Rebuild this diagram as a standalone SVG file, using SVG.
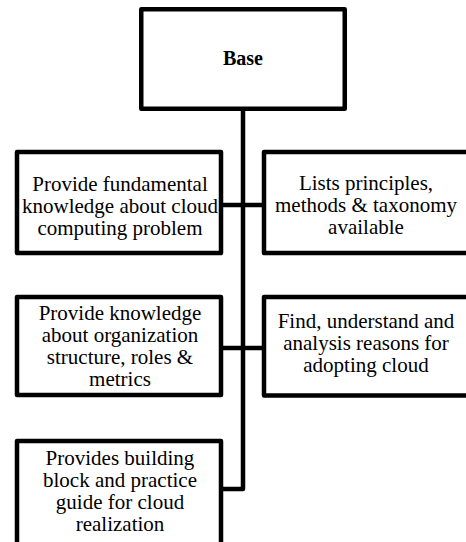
<svg xmlns="http://www.w3.org/2000/svg" width="466" height="542" viewBox="0 0 466 542">
<style>
.box{fill:#fff;stroke:#000;stroke-width:4.5;stroke-linejoin:round}
.c{fill:none;stroke:#000;stroke-width:4.5;stroke-linejoin:round}
text{font-family:"Liberation Serif","Times New Roman",serif;font-size:21px;fill:#000;text-anchor:middle}
.b{font-weight:bold;font-size:20px}
</style>
<rect width="466" height="542" fill="#fff"/>
<g id="connectors">
<path class="c" d="M243,111 V489 H223"/>
<path class="c" d="M221,205 H264"/>
<path class="c" d="M221,348 H264"/>
</g>
<g id="base">
<rect class="box" x="141.25" y="9.25" width="203.5" height="99.5"/>
<text class="b" x="243" y="65">Base</text>
</g>
<g id="n1">
<rect class="box" x="17" y="152" width="204" height="101"/>
<text x="120" y="190.5">Provide fundamental</text>
<text x="120" y="212.5">knowledge about cloud</text>
<text x="120" y="234.5">computing problem</text>
</g>
<g id="n2">
<rect class="box" x="264" y="152" width="205" height="101"/>
<text x="366" y="190">Lists principles,</text>
<text x="366" y="212">methods &amp; taxonomy</text>
<text x="366" y="234">available</text>
</g>
<g id="n3">
<rect class="box" x="17" y="297" width="204" height="98"/>
<text x="120" y="320">Provide knowledge</text>
<text x="120" y="342">about organization</text>
<text x="120" y="364">structure, roles &amp;</text>
<text x="120" y="386">metrics</text>
</g>
<g id="n4">
<rect class="box" x="264" y="297" width="205" height="98.5"/>
<text x="366" y="328">Find, understand and</text>
<text x="366" y="350">analysis reasons for</text>
<text x="366" y="372">adopting cloud</text>
</g>
<g id="n5">
<rect class="box" x="17" y="441" width="204" height="110"/>
<text x="120" y="465">Provides building</text>
<text x="120" y="487">block and practice</text>
<text x="120" y="509">guide for cloud</text>
<text x="120" y="531">realization</text>
</g>
</svg>
